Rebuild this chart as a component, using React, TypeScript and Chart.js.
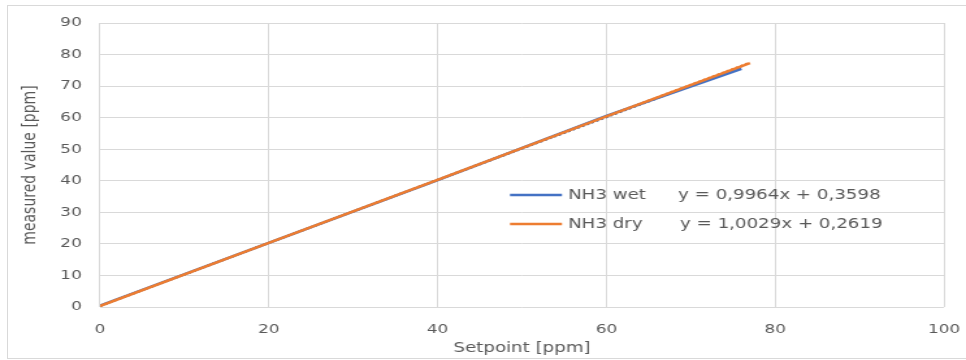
import React, { useEffect, useRef } from "react";
import { Chart, registerables } from "chart.js";

Chart.register(...registerables);

// ---- data ----
const wetSetpoints = [0, 20, 40, 60, 76];
const wetMeasured = [0.4, 20.3, 40.2, 60.6, 75.5];
const drySetpoints = [0, 20, 40, 60, 77];
const dryMeasured = [0.3, 20.3, 40.3, 60.4, 77.3];
// trend lines (end points of the fitted lines)
const wetTrendX = [0, 76];
const wetTrendY = [0.36, 76.09];
const dryTrendX = [0, 77];
const dryTrendY = [0.26, 77.49];

const seriesNames = ["NH3 wet", "NH3 dry"];
const equations = ["y = 0,9964x + 0,3598", "y = 1,0029x + 0,2619"];
const xTitle = "Setpoint [ppm]";
const yTitle = "measured value [ppm]";

const BLUE = "#4472C4";
const ORANGE = "#ED7D31";
const GRID = "#d9d9d9";
const TEXT = "#595959";
const FONT = "'DejaVu Sans', sans-serif";

const PAGE_W = 966;
const PAGE_H = 360;
const STRETCH = 1.3;
const CANVAS_W = Math.round(PAGE_W / STRETCH);
const S = PAGE_W / CANVAS_W;

const toPts = (xs: number[], ys: number[]) => xs.map((x, i) => ({ x, y: ys[i] }));

const legendPlugin = {
  id: "insideLegend",
  afterDraw(chart: any) {
    const ctx = chart.ctx;
    const rows = [
      { color: BLUE, name: seriesNames[0], eq: equations[0], y: 195, eqX: 678 },
      { color: ORANGE, name: seriesNames[1], eq: equations[1], y: 224, eqX: 680 },
    ];
    ctx.save();
    ctx.font = `14px ${FONT}`;
    ctx.fillStyle = TEXT;
    ctx.textBaseline = "middle";
    ctx.textAlign = "left";
    rows.forEach((r) => {
      ctx.strokeStyle = r.color;
      ctx.lineWidth = 2.5;
      ctx.beginPath();
      ctx.moveTo(510 / S, r.y);
      ctx.lineTo(562 / S, r.y);
      ctx.stroke();
      ctx.fillText(r.name, 568 / S, r.y);
      ctx.fillText(r.eq, r.eqX / S, r.y);
    });
    ctx.restore();
  },
};

export default function App() {
  const ref = useRef<HTMLCanvasElement | null>(null);

  useEffect(() => {
    if (!ref.current) return;
    const chart = new Chart(ref.current, {
      type: "scatter",
      data: {
        datasets: [
          {
            label: seriesNames[1],
            data: toPts(drySetpoints, dryMeasured),
            showLine: true,
            borderColor: ORANGE,
            borderWidth: 2.5,
            pointRadius: 0,
          },
          {
            label: seriesNames[0],
            data: toPts(wetSetpoints, wetMeasured),
            showLine: true,
            borderColor: BLUE,
            borderWidth: 2.5,
            pointRadius: 0,
          },
          {
            label: seriesNames[1] + " trend",
            data: toPts(dryTrendX, dryTrendY),
            showLine: true,
            borderColor: ORANGE,
            borderWidth: 2,
            borderDash: [2, 2],
            pointRadius: 0,
          },
          {
            label: seriesNames[0] + " trend",
            data: toPts(wetTrendX, wetTrendY),
            showLine: true,
            borderColor: "#2f528f",
            borderWidth: 2,
            borderDash: [2, 2],
            pointRadius: 0,
          },
        ],
      },
      options: {
        animation: false,
        responsive: false,
        devicePixelRatio: 1,
        layout: { padding: { left: 0, right: CANVAS_W - 944 / S, top: 23, bottom: 0 } },
        plugins: {
          legend: { display: false },
          tooltip: { enabled: false },
        },
        scales: {
          x: {
            type: "linear",
            min: 0,
            max: 100,
            ticks: { stepSize: 20, color: TEXT, font: { family: FONT, size: 13 }, padding: 15 },
            grid: { color: GRID, lineWidth: 1, drawTicks: false },
            border: { display: false },
            title: {
              display: true,
              text: xTitle,
              color: TEXT,
              font: { family: FONT, size: 14 },
              padding: { top: 0, bottom: 3 },
            },
            afterFit(scale: any) {
              scale.height = PAGE_H - 307;
              scale.paddingLeft = 0;
              scale.paddingRight = 0;
            },
          },
          y: {
            type: "linear",
            min: 0,
            max: 90,
            ticks: { stepSize: 10, color: TEXT, font: { family: FONT, size: 13 }, padding: 14 },
            grid: { color: GRID, lineWidth: 1, drawTicks: false },
            border: { display: false },
            title: {
              display: true,
              text: yTitle,
              color: TEXT,
              font: { family: FONT, size: 14 },
              padding: { top: 15, bottom: 0 },
            },
            afterFit(scale: any) {
              scale.width = 100 / S;
              scale.paddingTop = 0;
              scale.paddingBottom = 0;
            },
          },
        },
      },
      plugins: [legendPlugin],
    });
    return () => chart.destroy();
  }, []);

  return (
    <div style={{ position: "absolute", left: 0, top: 0, width: PAGE_W, height: PAGE_H, background: "#fff", overflow: "hidden" }}>
      <div
        style={{
          position: "absolute",
          left: 7,
          top: 5,
          width: PAGE_W + 20,
          height: PAGE_H - 6,
          border: "1px solid #d9d9d9",
          boxSizing: "border-box",
        }}
      />
      <canvas
        ref={ref}
        width={CANVAS_W}
        height={PAGE_H}
        style={{ position: "absolute", left: 0, top: 0, width: PAGE_W, height: PAGE_H }}
      />
    </div>
  );
}
